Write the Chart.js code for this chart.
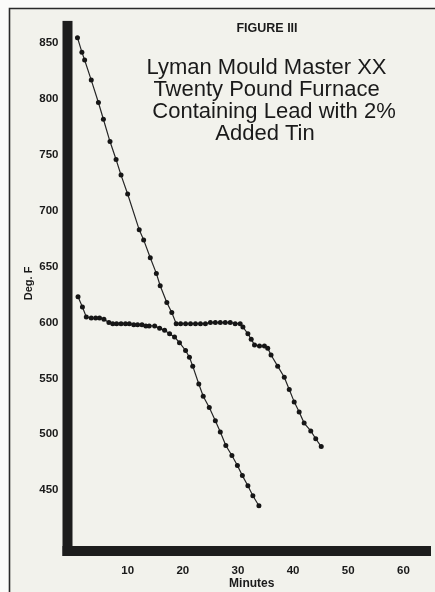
<!DOCTYPE html>
<html>
<head>
<meta charset="utf-8">
<script src="https://cdn.jsdelivr.net/npm/chart.js@4"></script>
<style>
  html, body { margin: 0; padding: 0; background: #fbfbf9; }
  #wrap { width: 435px; height: 592px; }
</style>
</head>
<body>
<div id="wrap"><canvas id="fig3" width="435" height="592"></canvas></div>
<script>
// Upper curve: furnace cooling from ~855 F
const minutesA = [0.9, 1.7, 2.2, 3.4, 4.7, 5.6, 6.8, 7.9, 8.8, 10.0, 12.1, 12.9, 14.1, 15.2, 15.9, 17.1, 18.0, 18.8,
  19.6, 20.5, 21.4, 22.3, 23.2, 24.1, 25.0, 25.9, 26.8, 27.7, 28.6, 29.5, 30.4,
  30.9, 31.8, 32.4, 33.0, 33.9, 34.8, 35.4, 36.0, 37.2, 38.4, 39.3, 40.2, 41.1, 42.0, 43.2, 44.1, 45.1];
const degA = [855, 842, 835, 817, 797, 782, 762, 746, 732, 715, 683, 674, 658, 644, 633, 618, 609, 599,
  599, 599, 599, 599, 599, 599, 600, 600, 600, 600, 600, 599, 599,
  596, 590, 585, 580, 579, 579, 577, 571, 561, 551, 540, 529, 520, 510, 503, 496, 489];

// Lower curve: starting ~623 F
const minutesB = [1.0, 1.8, 2.5, 3.4, 4.2, 4.9, 5.7, 6.6, 7.3, 8.0, 8.8, 9.6, 10.3, 11.1, 11.8, 12.6, 13.3, 13.9,
  14.9, 15.8, 16.7, 17.6, 18.5, 19.4, 20.5, 21.2, 21.8, 22.9, 23.7, 24.8, 25.9, 26.8, 27.8, 28.9, 29.9, 30.8, 31.8, 32.7, 33.8];
const degB = [623, 614, 605, 604, 604, 604, 603, 600, 599, 599, 599, 599, 599, 598, 598, 598, 597, 597,
  597, 595, 593, 590, 587, 582, 575, 569, 561, 545, 534, 524, 512, 502, 490, 481, 472, 463, 454, 445, 436];

const minuteTicks = [10, 20, 30, 40, 50, 60];
const degTicks = [450, 500, 550, 600, 650, 700, 750, 800, 850];

const titleLines = ['Lyman Mould Master XX', 'Twenty Pound Furnace', ' Containing Lead with 2%', 'Added Tin'];

const ink = '#1a1a1a';

function toPoints(xs, ys) {
  return xs.map((x, i) => ({ x: x, y: ys[i] }));
}

// paper, frame and thick axis bars
const paperPlugin = {
  id: 'paper',
  beforeDraw(chart) {
    const ctx = chart.ctx;
    const area = chart.chartArea;
    ctx.save();
    ctx.fillStyle = '#fbfbf9';
    ctx.fillRect(0, 0, chart.width, chart.height);
    ctx.fillStyle = '#f2f2ec';
    ctx.fillRect(10, 9, chart.width - 10, chart.height - 9);
    ctx.strokeStyle = '#2a2a2a';
    ctx.lineWidth = 1.6;
    ctx.beginPath();
    ctx.moveTo(9.5, chart.height);
    ctx.lineTo(9.5, 8.5);
    ctx.lineTo(chart.width, 8.5);
    ctx.stroke();
    ctx.fillStyle = '#1d1d1d';
    ctx.fillRect(area.left - 10, area.top, 10, area.bottom - area.top + 10);
    ctx.fillRect(area.left - 10, area.bottom, area.right - area.left + 10, 10);
    ctx.restore();
  },
  afterDraw(chart) {
    const ctx = chart.ctx;
    ctx.save();
    ctx.fillStyle = ink;
    ctx.textAlign = 'center';
    ctx.textBaseline = 'alphabetic';
    ctx.font = 'bold 12.5px "Liberation Sans", Arial, sans-serif';
    ctx.fillText('FIGURE III', 267, 31.5);
    ctx.font = '22px "Liberation Sans", Arial, sans-serif';
    const xs = [266.5, 266.5, 271, 265];
    const ys = [74, 95.5, 117.5, 139.5];
    titleLines.forEach((line, i) => ctx.fillText(line, xs[i], ys[i]));
    ctx.restore();
  }
};

const tickFont = { family: '"Liberation Sans", Arial, sans-serif', size: 11.5, weight: 'bold' };

new Chart(document.getElementById('fig3'), {
  type: 'line',
  data: {
    datasets: [{
      data: toPoints(minutesA, degA),
      borderColor: '#262626',
      borderWidth: 1.2,
      pointRadius: 2.5,
      pointBackgroundColor: '#161616',
      pointBorderWidth: 0,
      tension: 0
    }, {
      data: toPoints(minutesB, degB),
      borderColor: '#262626',
      borderWidth: 1.2,
      pointRadius: 2.5,
      pointBackgroundColor: '#161616',
      pointBorderWidth: 0,
      tension: 0
    }]
  },
  options: {
    responsive: false,
    animation: false,
    layout: { padding: { left: 10, top: 18, right: 2, bottom: 0 } },
    scales: {
      x: {
        type: 'linear',
        min: 0,
        max: 65,
        grid: { display: false, drawTicks: false },
        border: { display: false },
        afterBuildTicks: (scale) => { scale.ticks = minuteTicks.map(v => ({ value: v })); },
        afterFit: (scale) => { scale.height = 46; },
        ticks: { color: ink, font: tickFont, padding: 18, maxRotation: 0 },
        title: {
          display: true,
          text: 'Minutes',
          color: ink,
          font: { family: '"Liberation Sans", Arial, sans-serif', size: 12, weight: 'bold' },
          padding: { top: 0, bottom: 1 }
        }
      },
      y: {
        min: 400,
        max: 870,
        grid: { display: false, drawTicks: false },
        border: { display: false },
        afterBuildTicks: (scale) => { scale.ticks = degTicks.map(v => ({ value: v })); },
        afterFit: (scale) => { scale.width = 62.5; },
        ticks: { color: ink, font: tickFont, padding: 14 },
        title: {
          display: true,
          text: 'Deg. F',
          color: ink,
          font: { family: '"Liberation Sans", Arial, sans-serif', size: 11, weight: 'bold' },
          padding: { top: 12, bottom: 0 }
        }
      }
    },
    plugins: {
      legend: { display: false },
      tooltip: { enabled: false }
    }
  },
  plugins: [paperPlugin]
});
</script>
</body>
</html>
